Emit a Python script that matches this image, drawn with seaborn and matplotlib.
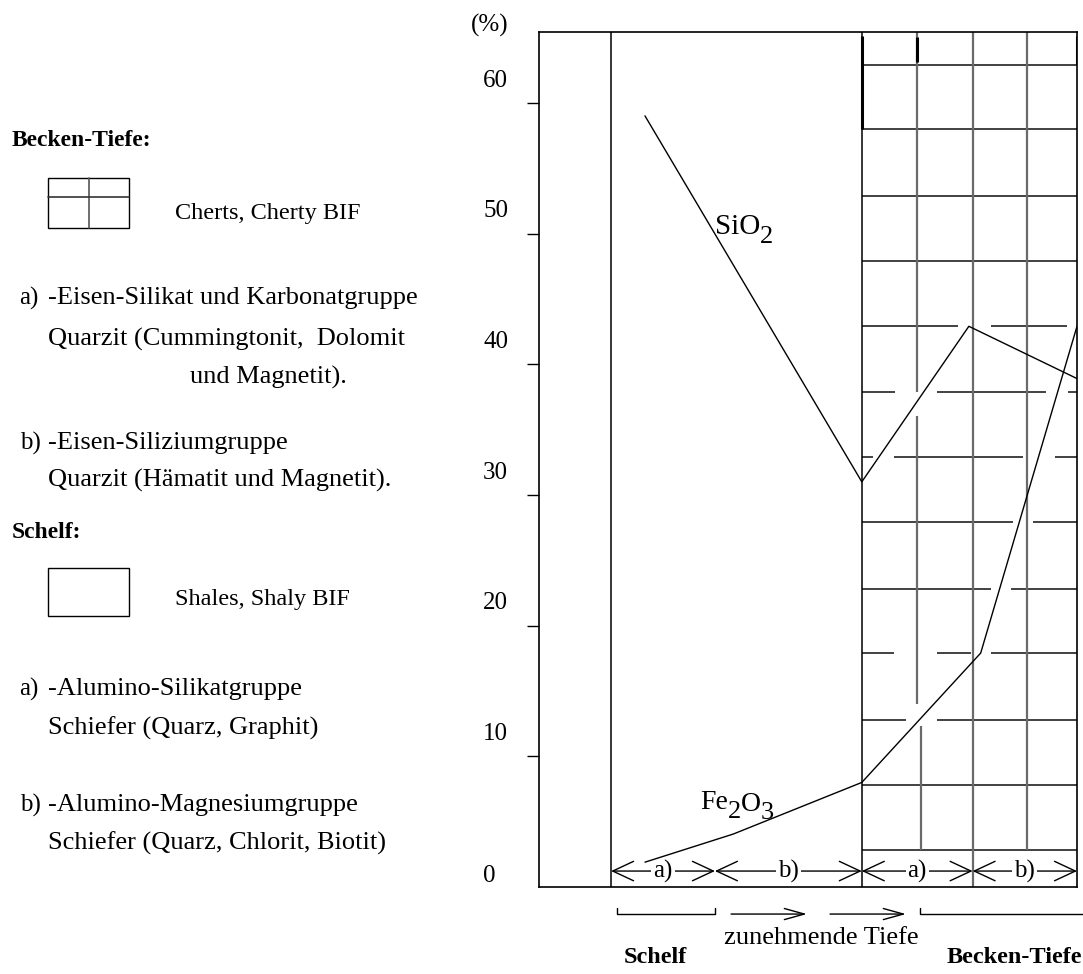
import matplotlib
matplotlib.use("Agg")
import matplotlib.pyplot as plt
import matplotlib.patches as mpatches
import seaborn as sns
import pandas as pd

# ---------------- data ----------------
sio2_x = [19.7, 60.0, 79.9, 100.0]
sio2_y = [59.0, 31.0, 42.9, 38.9]
fe2o3_x = [19.7, 36.1, 60.0, 82.1, 100.0]
fe2o3_y = [1.9, 4.05, 8.0, 17.9, 42.9]

y_tick_values = [0, 10, 20, 30, 40, 50, 60]
y_tick_labels = ["0", "10", "20", "30", "40", "50", "60"]

zone_lines = [13.4, 60.0]                       # Schelf start, Becken-Tiefe start
segment_bounds = [13.4, 32.7, 60.0, 80.6, 100.0]
segment_labels = ["a)", "b)", "a)", "b)"]

# Becken-Tiefe pattern (cherts grid)
grid_rows = [62.9, 58.0, 52.9, 47.9, 42.9, 37.9, 32.9, 27.9, 22.8, 17.9, 12.8, 7.8, 2.8]
row_gaps = [[], [], [], [], [(77.9, 84.1), (98.1, 100.0)], [(66.2, 74.0), (94.2, 98.3)],
            [(62.1, 66.0), (90.0, 95.9)], [(88.1, 91.8)], [(84.0, 87.7)],
            [(66.0, 74.0), (80.3, 84.0)], [(68.2, 74.0)], [], []]
grid_cols = [70.3, 70.3, 71.0, 80.6, 90.7]
grid_col_from = [37.9, 14.0, 2.8, 0.0, 2.8]
grid_col_to = [65.44, 36.0, 12.3, 65.44, 65.44]

legend_items = [
    (12, 141, "Becken-Tiefe:", "bold", 17),
    (175, 213, "Cherts, Cherty BIF", "normal", 17.5),
    (19, 298, "a)", "normal", 18),
    (48, 298, "-Eisen-Silikat und Karbonatgruppe", "normal", 19),
    (48, 339, "Quarzit (Cummingtonit,  Dolomit", "normal", 19),
    (190, 377, "und Magnetit).", "normal", 19),
    (20, 443, "b)", "normal", 18),
    (48, 443, "-Eisen-Siliziumgruppe", "normal", 19),
    (48, 480, "Quarzit (Hämatit und Magnetit).", "normal", 19),
    (12, 532, "Schelf:", "bold", 17),
    (175, 600, "Shales, Shaly BIF", "normal", 17.5),
    (19, 689, "a)", "normal", 18),
    (48, 689, "-Alumino-Silikatgruppe", "normal", 19),
    (48, 728, "Schiefer (Quarz, Graphit)", "normal", 19),
    (20, 805, "b)", "normal", 18),
    (48, 805, "-Alumino-Magnesiumgruppe", "normal", 19),
    (48, 843, "Schiefer (Quarz, Chlorit, Biotit)", "normal", 19),
]

# ---------------- style ----------------
sns.set_theme(style="white")
plt.rcParams["font.family"] = ["Liberation Serif", "DejaVu Serif"]
plt.rcParams["text.color"] = "black"
plt.rcParams["axes.edgecolor"] = "black"

W, H = 1083, 974
fig = plt.figure(figsize=(W / 100, H / 100), dpi=100)
fig.patch.set_facecolor("white")
ax = fig.add_axes([539 / W, 1 - 887 / H, 538 / W, (887 - 31.7) / H])
ax.set_facecolor("white")

df = pd.concat([
    pd.DataFrame({"x": sio2_x, "y": sio2_y, "series": "SiO2"}),
    pd.DataFrame({"x": fe2o3_x, "y": fe2o3_y, "series": "Fe2O3"}),
])
sns.lineplot(data=df, x="x", y="y", hue="series", units="series", estimator=None,
             palette={"SiO2": "black", "Fe2O3": "black"}, sort=False,
             legend=False, linewidth=1.0, ax=ax, zorder=5)

ax.set_xlim(0, 100)
ax.set_ylim(0, 65.44)
ax.set_xlabel("")
ax.set_ylabel("")
ax.set_xticks([])
ax.set_yticks(y_tick_values[1:])
ax.set_yticklabels([])
ax.tick_params(axis="y", left=True, direction="out", length=8.6, width=1.0, color="black")
for s in ax.spines.values():
    s.set_color("black")
    s.set_linewidth(1.2)

# y tick labels (placed above their ticks, left aligned)
for v, lab in zip(y_tick_values, y_tick_labels):
    off = 0.85 if v == 0 else 1.7
    ax.text(-0.104, v + off, lab, transform=ax.get_yaxis_transform(),
            ha="left", va="center", fontsize=18)
ax.text(-0.126, 1.0078, "(%)", transform=ax.transAxes, ha="left", va="center", fontsize=18)

# zone boundaries
for xv in zone_lines:
    ax.axvline(xv, color="black", lw=1.1, zorder=3)

# Becken-Tiefe grid pattern
x0, x1 = zone_lines[1], segment_bounds[-1]
for yv, gaps in zip(grid_rows, row_gaps):
    start = x0
    for g0, g1 in gaps:
        ax.hlines(yv, start, g0, color="#333333", lw=1.3, zorder=2)
        start = g1
    if start < x1:
        ax.hlines(yv, start, x1, color="#333333", lw=1.3, zorder=2)
ax.vlines(grid_cols, grid_col_from, grid_col_to, color="#6a6a6a", lw=1.6, zorder=2)
# darker doubled strokes at the top of the pattern
ax.vlines([60.0, 70.3, 100.0], [58.0, 63.1, 63.0], [65.1, 65.0, 65.1],
          color="black", lw=2.2, zorder=3)

# a) / b) arrows
arrow_y = 1.22
for i, lab in enumerate(segment_labels):
    a, b = segment_bounds[i], segment_bounds[i + 1]
    ax.annotate("", xy=(a, arrow_y), xytext=(b, arrow_y),
                arrowprops=dict(arrowstyle="<->,head_length=0.75,head_width=0.35",
                                lw=1.0, color="black", shrinkA=0, shrinkB=0,
                                mutation_scale=20), zorder=4)
    ax.text((a + b) / 2, arrow_y, lab, ha="center", va="center", fontsize=18,
            bbox=dict(facecolor="white", edgecolor="none", pad=1.5), zorder=4.5)

# series labels with large, lowered subscripts
def chem_label(x, y, parts, fs):
    prev = ax.text(x, y, parts[0][0], ha="left", va="baseline", fontsize=fs, zorder=6)
    for txt, drop, size in parts[1:]:
        prev = ax.annotate(txt, xy=(1.0, 0.0), xycoords=prev,
                           xytext=(0, -drop), textcoords="offset points",
                           ha="left", va="bottom", fontsize=size, zorder=6)

chem_label(32.7, 50.0, [("SiO", 0, 21), ("2", 6, 19)], 21)
chem_label(29.9, 6.0, [("Fe", 0, 20), ("2", 6, 19), ("O", -4, 20), ("3", 5, 19)], 20)

# bottom: depth indication
by, bt = -2.07, -1.6
ax.plot([14.5, 14.5, 32.7, 32.7], [bt, by, by, bt], color="black", lw=1.0, clip_on=False)
ax.plot([70.9, 70.9, 101.2], [bt, by, by], color="black", lw=1.0, clip_on=False)
for a, b in [(35.7, 49.8), (54.1, 68.2)]:
    ax.annotate("", xy=(b, by), xytext=(a, by), annotation_clip=False,
                arrowprops=dict(arrowstyle="->,head_length=0.72,head_width=0.2",
                                lw=1.0, color="black", shrinkA=0, shrinkB=0,
                                mutation_scale=20))
ax.text(52.4, -3.9, "zunehmende Tiefe", ha="center", va="center", fontsize=19, clip_on=False)
ax.text(21.7, -5.4, "Schelf", ha="center", va="center", fontsize=17.5,
        fontweight="bold", clip_on=False)
ax.text(88.3, -5.4, "Becken-Tiefe", ha="center", va="center", fontsize=17.5,
        fontweight="bold", clip_on=False)

# ---------------- left legend ----------------
for xp, yp, txt, wt, fs in legend_items:
    fig.text(xp / W, 1 - yp / H, txt, ha="left", va="center", fontsize=fs, fontweight=wt)

def fig_rect(x0p, y0p, x1p, y1p):
    return mpatches.Rectangle((x0p / W, 1 - y1p / H), (x1p - x0p) / W, (y1p - y0p) / H,
                              transform=fig.transFigure, facecolor="white",
                              edgecolor="black", lw=1.0)

fig.patches.append(fig_rect(48, 178, 129, 228))
fig.add_artist(plt.Line2D([89 / W, 89 / W], [1 - 178 / H, 1 - 228 / H],
                          transform=fig.transFigure, color="#555555", lw=1.2))
fig.add_artist(plt.Line2D([48 / W, 129 / W], [1 - 197 / H, 1 - 197 / H],
                          transform=fig.transFigure, color="#333333", lw=1.2))
fig.patches.append(fig_rect(48, 568, 129, 616))

fig.savefig("out.png", dpi=100, facecolor="white")
